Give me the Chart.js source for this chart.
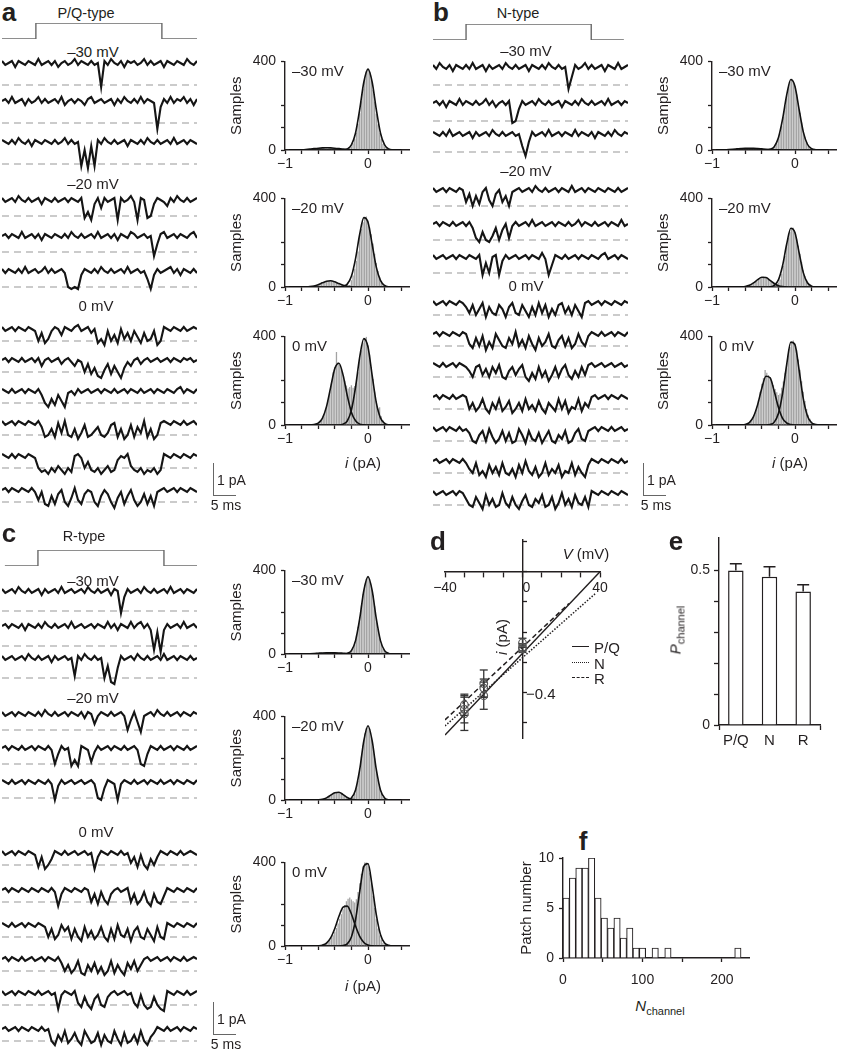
<!DOCTYPE html>
<html>
<head>
<meta charset="utf-8">
<script src="https://cdn.jsdelivr.net/npm/chart.js@4.4.1/dist/chart.umd.min.js"></script>
<style>
  body { margin: 0; background: #fff; }
  #fig { position: relative; width: 845px; height: 1050px; overflow: hidden; background: #fff;
         font-family: "Liberation Sans", Arial, Helvetica, sans-serif; color: #231f20; }
  #fig canvas { position: absolute; }
  .t { position: absolute; line-height: 1; white-space: nowrap; }
  .bar { position: absolute; border-left: 1.3px solid #666; border-bottom: 1.3px solid #666; }
  .key { position: absolute; width: 17px; height: 0; }
</style>
</head>
<body>
<div id="fig"></div>
<script>
// ---------- single-channel traces (samples in 0.05 pA steps, 0.8 ms apart) ----------
const SAMPLE_MS = 0.8;
const TRACE_MS = 47.2;

const pqTr30 = [
  [1,-1,0,1,-2,1,0,-1,1,0, -1,2,-1,0,1,-1,1,-2,0,1, -1,0,2,-1,1,0,-1,1,-1,0, -12,1,-1,2,0,-1,1,-2,1,0, 1,-1,0,2,-1,1,-1,0,1,-2, 1,0,-1,1,0,-1,2,0,-1,1],
  [0,1,-1,2,-1,0,1,-2,1,-1, 0,2,-1,1,-1,0,1,-1,2,-2, 0,1,-1,1,0,-2,1,2,-1,0, 1,-1,0,1,-2,1,-1,2,0,-1, 1,-1,2,-1,1,0,-1,-14,-3,1, -1,2,-1,1,0,2,-1,1,-2,1],
  [1,0,-1,1,-1,2,0,-1,1,-2, 1,0,-1,1,0,-1,1,-1,0,2, -1,1,-1,0,-12,-4,-13,-2,-12,1, -1,2,0,-1,1,-1,0,1,-2,1, 0,-1,1,-1,2,0,-1,1,-1,0, 1,-1,2,-1,0,1,-1,1,0,-1]
];
const pqTr20 = [
  [1,-1,0,1,-1,2,0,-1,1,-1, 0,1,-2,1,0,-1,1,-1,0,1, -1,1,0,-1,1,-9,-6,-10,-2,1, -4,1,-1,0,1,-10,1,-1,0,2, -1,-10,1,0,-9,-8,-2,1,0,-1, -3,1,-1,2,0,-1,1,-1,0,1],
  [0,1,-1,1,0,-1,2,-1,0,1, -1,1,-2,1,0,-1,1,0,-1,1, -1,2,0,-1,1,-1,0,1,-1,2, -1,0,1,-1,1,-2,1,0,-1,2, 1,-1,0,1,-1,0,-10,-4,1,2, -1,0,1,-1,1,0,-1,1,2,-1],
  [1,-1,1,0,-1,1,-1,2,-1,0, 1,-1,0,2,-1,1,-1,0,1,-1, -8,-9,-8,-9,-2,1,0,-1,1,-1, 2,0,-1,1,-1,0,1,-1,2,-1, 0,1,-1,0,-4,-9,-2,1,-1,0, 1,2,-1,1,-2,1,0,-1,1,-1]
];
const pqTr0 = [
  [1,-1,0,1,-1,1,0,-1,1,0, -1,-6,-2,-7,-5,-1,1,0,-3,1, 0,-1,1,2,-1,0,1,-2,0,-7, -5,-8,-1,-6,-3,-7,0,-5,-2,-6, -1,-4,-7,-2,-6,-5,-1,-8,-6,1, 0,-1,1,0,-1,1,-1,0,1,0],
  [0,1,-1,1,0,-1,1,-1,0,1, -1,1,-3,0,1,-1,0,1,-2,0, 1,-1,-3,0,-1,-6,-2,-7,-4,-8, -9,-5,-2,-7,-3,-6,-9,-4,-1,-3, 0,1,-2,0,1,-1,0,1,-1,0, 1,-1,1,0,-1,1,0,1,-1,0],
  [1,0,-1,1,-1,0,1,-1,1,0, -1,1,-2,-6,-8,-4,-7,-2,-5,-8, -1,0,-2,1,-1,0,1,-1,0,1, -1,1,0,-1,1,-1,0,1,-1,1, 0,-1,1,-1,0,1,-1,1,0,-1, 1,0,-1,1,2,-1,1,0,-1,1],
  [1,-1,0,1,-1,1,0,-1,1,0, -1,1,-2,-7,-6,-3,-7,0,-5,1, -6,-7,-3,-8,-5,-1,-7,-6,-4,-2, -6,-7,-5,-1,0,-7,-3,-8,-6,-1, -7,-2,-5,1,-7,-3,-8,-6,0,1, 0,-1,1,0,-1,1,-1,0,1,-1],
  [1,0,-1,1,-1,1,0,-1,1,0, -1,-6,-8,-7,-9,-6,-8,-5,-7,-9, -6,-8,0,1,-1,-6,-3,-7,-8,-6, -9,-7,-5,-8,-7,-2,0,-1,1,-5, -7,-8,-6,-9,-7,-8,-6,-9,-7,1, 0,-1,1,0,-1,1,0,-1,1,0],
  [0,1,-1,1,0,-1,1,0,-1,1, -1,-5,-1,-7,-8,-3,-7,-2,0,-6, -8,-4,1,-5,-7,-2,0,-1,-6,-8, -3,0,-2,-6,-9,-4,-1,-7,-3,0, -5,-8,-6,-2,-7,-3,-8,-1,0,1, -1,0,1,-1,1,0,-1,1,0,-1]
];
const nTr30 = [
  [1,-1,2,0,-1,1,-2,1,0,-1, 1,-1,2,-1,0,1,-2,1,-1,0, 1,-1,2,0,-1,1,-1,0,1,-2, 1,0,-1,1,-1,2,0,-1,1,-1, 0,-11,-5,1,-1,0,2,-1,1,-1, 0,1,-2,1,0,-1,2,-1,0,1],
  [0,1,-1,1,-2,1,0,-1,2,-1, 1,0,-1,1,-1,0,2,-1,1,-2, 0,1,-1,1,-10,-9,-3,1,-1,0, 1,-1,2,0,-1,1,-1,0,1,-2, 1,0,-1,1,-1,2,0,-1,1,-1, 0,1,-1,2,-1,0,1,-1,1,0],
  [1,0,-1,1,-1,2,-1,0,1,-1, 0,1,-2,1,-1,0,1,-1,2,0, -1,1,-1,0,1,-1,0,-6,-11,-4, 1,-1,0,1,-1,2,-1,0,1,-1, 1,0,-1,2,-1,1,0,-1,1,-2, 1,0,-1,1,-1,2,0,-1,1,0]
];
const nTr20 = [
  [1,-1,0,1,-1,1,0,-1,1,0, -6,-2,-8,-3,-7,-1,1,-5,-8,-2, 0,-6,-3,-8,-1,0,1,-1,0,1, -1,2,0,-1,1,-1,0,1,-1,1, 0,-1,2,-1,0,1,-1,1,0,-1, 1,0,-1,1,0,-1,1,-1,0,1],
  [0,1,-1,1,0,-1,1,-1,0,1, -1,1,-2,-7,-9,-4,-8,-9,-6,-2, -8,-3,0,-7,-1,1,-1,0,1,-1, 2,-1,0,1,-1,0,1,-1,1,0, -1,1,-1,0,2,-1,1,0,-1,1, -1,0,1,-1,1,0,-1,2,-1,0],
  [1,-1,0,1,-1,0,1,-1,1,0, -1,1,0,-1,1,-9,-3,-8,0,1, -9,-2,1,-1,0,1,-1,0,1,-1, 1,0,-1,2,-1,-9,-4,1,0,-1, 1,-1,0,1,-1,1,0,-1,1,0, -1,1,2,-1,0,1,-1,1,0,-1]
];
const nTr0 = [
  [1,-1,0,1,-1,1,0,-1,1,0, -2,-5,-1,-6,-3,0,-7,-2,-5,-6, -1,-3,-7,-2,0,-5,-6,-1,-4,-7, -2,-6,0,-5,-1,-7,-3,-6,-1,0, -5,-2,-6,-1,-4,-7,0,1,-1,0, 1,-1,1,0,-1,1,0,-1,1,0],
  [0,1,-1,1,0,-1,1,0,-1,1, 0,-5,-7,-2,-6,-1,-8,-4,-7,0, -3,-6,-7,-2,-5,1,-6,-3,-7,-1, -5,-8,-2,-6,-4,0,-6,-7,-3,-1, -6,-2,-7,-5,0,-4,-6,-1,1,0, -1,1,-1,0,1,-1,1,0,-1,1],
  [1,0,-1,1,-1,0,1,-1,1,0, -1,-3,-6,-1,0,-5,-2,-6,-1,-4, 0,-6,-7,-3,-1,-5,-2,0,-6,-8, -4,-7,-1,-6,-3,-8,-5,-1,-6,-2, 0,-5,-7,-3,-6,-1,-5,0,1,-1, 0,1,-1,0,1,-1,0,1,-1,0],
  [0,1,-1,1,0,-1,1,-1,0,1, 0,-6,-3,-7,-5,-1,-6,-8,-3,-6, -1,-7,-5,-2,-8,-6,-3,-7,-1,-6, -4,-7,-2,-6,-8,-3,-5,-7,-1,-6, -2,-8,-5,-6,-1,-7,-3,-5,0,1, -1,0,1,-1,1,0,-1,1,0,-1],
  [1,-1,0,1,-1,1,0,-1,1,-1, 0,-2,-6,-7,-3,-1,-6,0,-4,-7, -5,-1,-6,-2,-7,-6,0,-3,-7,-1, -5,-6,-2,-7,-4,-1,-6,-7,-3,-5, -1,-7,-6,-2,0,-5,-6,-1,0,1, -1,1,0,-1,1,-1,0,1,-1,0],
  [0,1,-1,0,1,-1,1,0,-1,1, -1,-4,-6,-1,-7,-5,-8,-2,-6,-3, -7,-1,-6,-7,-4,-8,-2,-6,0,-5, -7,-3,-8,-6,-1,-7,-4,-6,-2,-8, -5,-6,-1,-7,-3,-6,-8,-2,1,0, -1,1,0,-1,1,0,-1,1,-1,0],
  [1,-1,0,1,-1,0,1,-1,1,0, -3,-6,-7,-2,-5,-8,-1,-6,-3,-7, -6,0,-5,-7,-2,-6,-8,-4,-1,-6, -7,-3,-5,-1,-7,-6,-2,-8,-5,0, -6,-3,-7,-1,-5,-6,-2,-7,1,0, -1,1,0,-1,1,0,-1,1,0,-1]
];
const rTr30 = [
  [1,-1,0,1,-1,2,0,-1,1,-1, 0,1,-2,1,-1,0,1,-1,2,-1, 0,1,-1,0,1,-1,2,0,-1,1, -1,0,1,-2,1,0,-11,-3,1,-1, 0,1,-1,2,0,-1,1,-1,0,1, -1,2,-1,0,1,-1,1,0,-1,1],
  [0,1,-1,1,0,-1,1,-2,1,0, -1,1,-1,2,0,-1,1,-1,0,1, -1,2,-1,0,1,-1,0,1,-1,1, 0,-1,2,-1,1,-2,1,0,-1,2, -1,1,2,-1,1,-2,-12,-3,-13,-2, 1,-1,0,1,-1,2,-1,0,1,-1],
  [1,-1,0,1,-1,0,1,-1,2,0, -1,1,-1,0,1,-2,1,-1,0,1, -1,0,-9,1,-1,2,0,-1,1,-1, 0,-10,-4,-12,-13,-5,1,-1,0,1, -1,2,0,-1,1,-1,0,1,-1,2, -1,0,1,-1,1,0,-1,1,-1,0]
];
const rTr20 = [
  [1,-1,0,1,-1,1,0,-1,1,0, -1,1,-1,2,0,-1,1,-1,0,1, -1,1,0,-1,1,-2,1,0,-5,-1, 1,0,-1,1,-1,0,1,-1,-8,-3, 1,-4,-9,-1,0,1,-1,2,0,-1, 1,-1,0,1,-1,1,0,-1,1,0],
  [0,1,-1,1,0,-1,1,-1,0,1, -1,1,0,-1,1,-1,-8,-3,1,-1, 0,-9,-6,-9,1,0,-1,-7,-2,1, -1,0,1,-1,1,0,-1,1,-1,0, 1,-1,-8,-9,-3,1,0,-1,1,-1, 0,1,-1,1,0,-1,1,-1,0,1],
  [1,0,-1,1,-1,0,1,-1,1,0, -1,1,0,-1,1,-1,-9,-2,1,-1, 0,1,-1,0,1,-1,0,1,-1,-8, -9,-3,1,0,-1,-9,-1,1,0,-1, 1,-1,0,1,-1,1,0,-1,1,-1, 0,1,-1,1,0,-1,1,0,-1,1]
];
const rTr0 = [
  [1,-1,0,1,-1,1,0,-1,1,0, -1,-7,-2,-8,-6,-3,1,0,-1,1, -1,0,1,-1,0,1,-1,0,-8,-2, 1,0,-1,1,0,-1,1,-1,0,-5, -2,-7,-1,-6,-8,-3,-6,-2,1,0, -1,1,0,-1,1,-1,0,1,0,-1],
  [0,1,-1,1,0,-1,1,0,-1,1, 0,-1,1,0,-1,1,-1,-8,-2,1, 0,-1,1,0,-1,1,0,-6,-2,-7, -1,-5,-7,-2,0,1,-1,0,1,-6, -2,-7,-5,-1,-6,-8,-2,-6,-7,-3, 1,0,-1,1,0,-1,1,0,-1,1],
  [1,0,-1,1,-1,0,1,-1,1,0, -1,1,0,-1,-6,-2,-7,-5,0,-3, -1,-7,-2,-6,-8,-1,-6,-3,-7,-5, -1,-6,-8,-2,-7,0,-5,-6,-2,-8, -3,-1,-6,-7,-2,-5,-8,-1,-6,-7, 1,0,-1,1,0,-1,1,0,-1,1],
  [0,1,-1,1,0,-1,1,-1,0,1, -1,0,1,-1,1,0,-1,1,-2,-6, -3,-7,-5,-1,-7,-8,-3,-6,-2,-7, -4,-8,-6,-1,-7,-3,-6,-8,-2,-5, -1,-6,-3,0,1,-1,0,1,-1,0, 1,-1,1,0,-1,1,-1,0,1,0],
  [1,-1,0,1,-1,1,0,-1,1,0, -1,1,-1,0,1,-1,0,-8,-1,1, 0,-1,1,-5,-7,-2,-6,-8,-3,-1, -6,-7,-2,0,1,-1,0,1,-1,0, -5,-7,-1,-6,-8,-7,-2,-6,-8,-9, 1,0,-1,1,0,-1,1,-1,0,1],
  [0,1,-1,0,1,-1,1,0,-1,1, 0,-1,1,-1,0,-6,-8,-3,-6,-1, -7,-5,-2,-6,-8,-1,-4,-7,-6,-2, -8,-3,-6,-7,-1,-5,-8,-2,-7,-6, -3,-7,-1,-6,-8,-4,-2,1,0,-1, 1,-1,0,1,-1,1,0,-1,1,0]
];

// voltage protocol (ms, relative level)
const protoLevel = [0, 0, 1, 1, 0, 0];
const protoA = [0, 8.2, 8.2, 38.7, 38.7, 47.2];
const protoB = [0, 8.0, 8.0, 38.3, 38.3, 46.2];
const protoC = [0.7, 8.7, 8.7, 39.2, 39.2, 47.2];

// ---------- amplitude histograms ----------
const binI = [-0.70,-0.68,-0.66,-0.64,-0.62,-0.60,-0.58,-0.56,-0.54,-0.52,-0.50,-0.48,-0.46,-0.44,-0.42,-0.40,-0.38,-0.36,-0.34,-0.32,
  -0.30,-0.28,-0.26,-0.24,-0.22,-0.20,-0.18,-0.16,-0.14,-0.12,-0.10,-0.08,-0.06,-0.04,-0.02,0,0.02,0.04,0.06,0.08,
  0.10,0.12,0.14,0.16,0.18,0.20,0.22,0.24,0.26,0.28,0.30];
const fitI = [-0.95,-0.9,-0.85,-0.8,-0.75,-0.7,-0.65,-0.6,-0.55,-0.5,-0.45,-0.4,-0.35,-0.3,-0.25,-0.2,-0.15,-0.1,-0.05,0,0.05,0.1,0.15,0.2,0.25,0.3,0.35,0.4];

const pq30Counts = [5,6,7,8,8,9,10,9,9,8, 8,7,7,6,5,4,3,3,2,2, 2,3,4,6,9, 16,30,48,78,118, 166,220,276,322,356, 368, 352,318,272,218,164, 116,76,48,28,16, 9,5,3,1,0];
const pq30Closed = [0,0,0,0,0,0,0,0,0,0,0,0,0,1,5,23,77,183,307,365,307,183,77,23,5,1,0,0];
const pq30Open = [0.1,0.3,0.7,1.4,2.5,4.1,6.1,8,9.5,10,9.5,8,6.1,4.1,2.5,1.4,0.7,0.3,0.1,0,0,0,0,0,0,0,0,0];
const pq20Counts = [1,2,3,4,6, 10,13,16,20,24, 26,28,29,27,25, 22,18,14,10,8, 6,5,5,6,9, 30,52,82,118,160, 236,262,292,312,318, 300,270,238,196,150, 108,72,44,26,14, 7,3,1,0,0,0];
const pq20Closed = [0,0,0,0,0,0,0,0,0,0,0,0,0,3,13,48,128,238,313,292,193,90,30,7,1,0,0,0];
const pq20Open = [0,0,0,0.1,0.4,1.6,4.6,10.5,18.7,25.8,27.9,23.4,15.3,7.8,3.1,1,0.2,0,0,0,0,0,0,0,0,0,0,0];
const pq0Counts = [0,0,1,2,4, 8,14,24,38,58, 84,112,150,186,238, 262,330,282,272,252, 226,200,178,165,172, 180,168,176,190,238, 300,338,372,392,398, 360,318,262,208,150, 108,75,80,40,22, 12,6,3,1,0,0];
const pq0Closed = [0,0,0,0,0,0,0,0,0,0,0,0,0,4,18,67,171,306,390,352,224,101,32,7,1,0,0,0];
const pq0Open = [0,0,0,0,0,0,2,8,30,83,170,255,279,225,133,58,19,4,1,0,0,0,0,0,0,0,0,0];

const n30Counts = [4,5,6,7,8, 8,8,8,7,7, 7,6,6,5,4, 4,3,3,3,3, 4,6,10,16,28, 50,76,110,150,198, 246,282,308,322,312, 288,252,210,168,124, 86,56,34,20,11, 6,3,1,0,0,0];
const n30Closed = [0,0,0,0,0,0,0,0,0,0,0,0,0,3,15,55,139,249,318,287,182,82,26,6,1,0,0,0];
const n30Open = [0.3,0.5,1.1,2.1,3.4,4.9,6.4,7.6,8,7.6,6.4,4.9,3.4,2.1,1.1,0.5,0.2,0.1,0,0,0,0,0,0,0,0,0,0];
const n20Counts = [0,1,1,2,2, 3,4,6,9,13, 18,24,30,36,40, 44,46,44,40,35, 30,24,20,16,14, 20,34,60,96,140, 192,222,250,266,268, 246,218,186,150,112, 74,48,28,16,8, 4,2,1,0,0,0];
const n20Closed = [0,0,0,0,0,0,0,0,0,0,0,0,0,1,7,32,96,194,265,245,154,65,19,4,0.5,0,0,0];
const n20Open = [0,0,0,0,0,0,0.5,2.3,7.6,18.5,33,44,43,30,16,6,1.7,0.3,0,0,0,0,0,0,0,0,0,0];
const n0Counts = [0,0,1,1,2, 3,5,8,13,22, 36,56,82,112,150, 186,212,248,236,226, 214,196,180,162,148, 136,142,168,196,236, 278,318,352,372,382, 368,338,296,250,198, 150,108,72,46,28, 16,8,4,2,1,0];
const n0Closed = [0,0,0,0,0,0,0,0,0,0,0,0,0,2,13,52,142,274,374,362,247,119,41,10,2,0,0,0];
const n0Open = [0,0,0,0,0,0,0.4,2.5,11,38,92,166,220,213,152,80,30,9,2,0,0,0,0,0,0,0,0,0];

const r30Counts = [3,4,5,5,6, 6,7,7,6,6, 6,6,5,5,4, 4,3,3,3,2, 2,3,4,6,10, 18,32,56,88,130, 178,232,286,330,360, 372,358,326,282,228, 170,118,78,48,26, 14,7,3,1,0,0];
const r30Closed = [0,0,0,0,0,0,0,0,0,0,0,0,0,0,3,16,64,169,304,370,304,169,64,16,3,0,0,0];
const r30Open = [0,0,0.2,0.4,0.8,1.5,2.4,3.6,4.8,5.7,6,5.7,4.8,3.6,2.4,1.5,0.8,0.4,0.2,0,0,0,0,0,0,0,0,0];
const r20Counts = [0,0,0,1,1, 1,2,2,3,5, 9,13,19,25,30, 35,37,38,34,30, 25,20,14,10,7, 8,14,30,56,92, 146,208,262,318,344, 356,340,300,256,200, 146,96,58,32,16, 7,3,1,0,0,0];
const r20Closed = [0,0,0,0,0,0,0,0,0,0,0,0,0,0,1,10,48,146,284,355,284,146,48,10,1,0,0,0];
const r20Open = [0,0,0,0,0,0,0,0.6,3,10,23,35,37,26,12,4,1,0,0,0,0,0,0,0,0,0,0,0];
const r0Counts = [0,0,0,1,1, 2,3,4,6,9, 14,20,28,38,52, 68,86,108,130,152, 176,196,214,226,232, 222,214,208,224,258, 300,346,382,404,410, 390,350,300,240,182, 128,84,52,30,16, 8,4,2,1,0,0];
const r0Closed = [0,0,0,0,0,0,0,0,0,0,0,0,0,2,10,43,126,260,381,394,288,150,55,14,3,0,0,0];
const r0Open = [0,0,0,0,0,0,0,1,4,14,39,84,142,186,191,153,95,46,17,5,1,0,0,0,0,0,0,0];

const histXTicks = [-1, -0.8, -0.6, -0.4, -0.2, 0, 0.2, 0.4];
const histXText = ['\u22121', '', '', '', '', '0', '', ''];
const histYTicks = [0, 100, 200, 400];
const histYText = ['0', '', '', '400'];
const mvText = ['\u201330 mV', '\u201320 mV', '0 mV'];

// ---------- d: single-channel I-V ----------
const ivV = [-30, -20, 0];
const ivPQ = [-0.47, -0.41, -0.255], ivPQErr = [0.055, 0.045, 0.012];
const ivN = [-0.44, -0.385, -0.25], ivNErr = [0.035, 0.03, 0.012];
const ivR = [-0.455, -0.37, -0.235], ivRErr = [0.045, 0.045, 0.015];
const fitVPQ = [-40, 40], fitIPQ = [-0.54, 0];
const fitVN = [-40, 38], fitIN = [-0.51, -0.07];
const fitVR = [-40, 24], fitIR = [-0.49, -0.105];
const dXTicks = [-40, -30, -20, -10, 0, 10, 20, 30, 40];
const dXText = ['\u221240', '', '', '', '  0', '', '', '', '40'];
const dYTicks = [0.1, 0, -0.1, -0.2, -0.3, -0.4, -0.5];
const dYText = ['', '', '', '', '', '\u22120.4', ''];

// ---------- e: open probability ----------
const eLabels = ['P/Q', 'N', 'R'];
const eMean = [0.5, 0.48, 0.432];
const eErr = [0.022, 0.032, 0.022];
const eTicks = [0, 0.1, 0.2, 0.3, 0.4, 0.5];
const eTickText = ['0', '', '', '', '', '0.5'];

// ---------- f: channel number per patch ----------
const fBins = [4,12,20,28,36,44,52,60,68,76,84,92,100,108,116,124,132,140,148,156,164,172,180,188,196,204,212,220];
const fCounts = [6,8,9,9,10,6,4,3,4,2,3,1,1,0,1,0,1,0,0,0,0,0,0,0,0,0,0,1];
const fXTicks = [0, 50, 100, 150, 200];
const fXText = ['0', '', '100', '', '200'];
const fYTicks = [0, 5, 10];
const fYText = ['0', '5', '10'];

// ---------- drawing ----------
const ink = '#231f20';
Chart.defaults.font.family = '"Liberation Sans", Arial, Helvetica, sans-serif';
Chart.defaults.font.size = 14;
Chart.defaults.color = ink;
Chart.defaults.animation = false;
Chart.defaults.responsive = false;
Chart.defaults.events = [];
Chart.defaults.plugins.legend.display = false;
Chart.defaults.plugins.tooltip.enabled = false;

const fig = document.getElementById('fig');

function canvasAt(left, top, w, h) {
  const c = document.createElement('canvas');
  c.width = w; c.height = h;
  c.style.left = left + 'px'; c.style.top = top + 'px';
  c.style.width = w + 'px'; c.style.height = h + 'px';
  fig.appendChild(c);
  return c;
}

function label(html, x, y, opt = {}) {
  const d = document.createElement('div');
  d.className = 't';
  d.innerHTML = html;
  let tf = opt.left ? 'translate(0,-50%)' : 'translate(-50%,-50%)';
  if (opt.rot) tf += ' rotate(-90deg)';
  d.style.left = x + 'px';
  d.style.top = y + 'px';
  d.style.fontSize = (opt.size || 15) + 'px';
  d.style.transform = tf;
  if (opt.bold) d.style.fontWeight = 'bold';
  fig.appendChild(d);
}

const axisGrid = tl => ({ drawOnChartArea: false, drawTicks: true, tickLength: tl, tickWidth: 1.3, tickColor: ink, color: ink });
const axisBorder = { display: true, color: ink, width: 1.4 };
const fixTicks = list => s => { s.ticks = list.map(v => ({ value: v })); };

function drawTrace(x0, base, vals, open) {
  const c = canvasAt(x0 - 2, base - 16, 199, 50);
  new Chart(c, {
    type: 'line',
    data: { datasets: [
      { data: vals.map((v, k) => ({ x: k * SAMPLE_MS, y: v })), borderColor: '#151515', borderWidth: 2.1, pointRadius: 0, tension: 0 },
      { data: [{ x: 0, y: open }, { x: TRACE_MS, y: open }], borderColor: '#bababa', borderWidth: 1.3, borderDash: [7, 5], pointRadius: 0 }
    ] },
    options: {
      layout: { padding: { left: 2, right: 2, top: 0, bottom: 0 } },
      scales: { x: { type: 'linear', display: false, min: 0, max: TRACE_MS }, y: { display: false, min: -17, max: 8 } }
    }
  });
}

function drawProtocol(x0, base, top, times) {
  const c = canvasAt(x0 - 2, top - 3, 199, base - top + 6);
  new Chart(c, {
    type: 'line',
    data: { datasets: [{ data: times.map((t, i) => ({ x: t, y: protoLevel[i] })), borderColor: '#6a6a6a', borderWidth: 1.4, pointRadius: 0 }] },
    options: {
      layout: { padding: { left: 2, right: 2, top: 3, bottom: 3 } },
      scales: { x: { type: 'linear', display: false, min: 0, max: TRACE_MS }, y: { display: false, min: 0, max: 1 } }
    }
  });
}

function drawHist(axisX, top, h, counts, closedFit, openFit) {
  const yW = 61, padT = 9, xH = 22, w = 192;
  const c = canvasAt(axisX - yW, top - padT, w, padT + h + xH);
  const fitLine = arr => ({ type: 'line', data: arr.map((v, j) => ({ x: fitI[j], y: v })), borderColor: '#111', borderWidth: 1.6,
    pointRadius: 0, cubicInterpolationMode: 'monotone' });
  new Chart(c, {
    type: 'bar',
    data: { datasets: [
      fitLine(closedFit), fitLine(openFit),
      { type: 'bar', data: counts.map((v, i) => ({ x: binI[i], y: v })), backgroundColor: '#a3a3a3', barPercentage: 0.78, categoryPercentage: 1 }
    ] },
    options: {
      layout: { padding: { top: padT, right: w - yW - 124.5 } },
      scales: {
        x: { type: 'linear', offset: false, min: -1, max: 0.5, afterFit: s => { s.height = xH; }, afterBuildTicks: fixTicks(histXTicks),
             ticks: { autoSkip: false, maxRotation: 0, padding: 2, callback: (v, i) => histXText[i] },
             grid: { ...axisGrid(4), offset: false }, border: axisBorder },
        y: { min: 0, max: 400, afterFit: s => { s.width = yW; }, afterBuildTicks: fixTicks(histYTicks),
             ticks: { autoSkip: false, padding: 5, callback: (v, i) => histYText[i] },
             grid: axisGrid(4), border: axisBorder,
             title: { display: true, text: 'Samples', font: { size: 15 }, padding: { top: 4, bottom: 0 } } }
      }
    }
  });
}

function scaleBar(x, y) {
  const d = document.createElement('div');
  d.className = 'bar';
  d.style.left = x + 'px'; d.style.top = y + 'px';
  d.style.width = '22px'; d.style.height = '32px';
  fig.appendChild(d);
  label('1 pA', x + 4, y + 17, { left: true, size: 14 });
  label('5 ms', x + 13, y + 42, { size: 14 });
}

const panels = [
  { name: 'a', title: 'P/Q-type', x0: 2, proto: protoA, protoY: [39, 23], axisX: 285, histTop: [57, 194, 332], histH: 93,
    groups: [[pqTr30, [63, 101, 142], -11], [pqTr20, [200, 236, 271], -8], [pqTr0, [329, 360, 391, 423, 456, 490], -6]],
    hists: [[pq30Counts, pq30Closed, pq30Open], [pq20Counts, pq20Closed, pq20Open], [pq0Counts, pq0Closed, pq0Open]],
    letter: [9, 12], titleAt: [86, 13], mvAt: [[93, 51], [93, 183], [96, 305]], bar: [213, 463], iAt: [363, 462] },
  { name: 'b', title: 'N-type', x0: 433, proto: protoB, protoY: [40, 24], axisX: 712, histTop: [57, 194, 332], histH: 93,
    groups: [[nTr30, [67, 103, 134], -9], [nTr20, [190, 224, 257], -8], [nTr0, [303, 334, 365, 397, 429, 461, 493], -6]],
    hists: [[n30Counts, n30Closed, n30Open], [n20Counts, n20Closed, n20Open], [n0Counts, n0Closed, n0Open]],
    letter: [441, 12], titleAt: [518, 13], mvAt: [[526, 50], [526, 170], [526, 285]], bar: [643, 463], iAt: [790, 462] },
  { name: 'c', title: 'R-type', x0: 2, proto: protoC, protoY: [566, 550], axisX: 285, histTop: [566, 712, 858], histH: 88,
    groups: [[rTr30, [591, 626, 658], -10], [rTr20, [714, 748, 782], -8], [rTr0, [853, 890, 925, 959, 993, 1029], -6]],
    hists: [[r30Counts, r30Closed, r30Open], [r20Counts, r20Closed, r20Open], [r0Counts, r0Closed, r0Open]],
    letter: [9, 533], titleAt: [84, 536], mvAt: [[93, 580], [93, 697], [96, 831]], bar: [213, 1002], iAt: [363, 985] }
];

panels.forEach(p => {
  label(p.name, p.letter[0], p.letter[1], { size: 26, bold: true });
  label(p.title, p.titleAt[0], p.titleAt[1], { size: 14.5 });
  drawProtocol(p.x0, p.protoY[0], p.protoY[1], p.proto);
  p.groups.forEach(([traces, bases, open], g) => {
    label(mvText[g], p.mvAt[g][0], p.mvAt[g][1]);
    traces.forEach((t, k) => drawTrace(p.x0, bases[k], t, open));
  });
  p.hists.forEach(([counts, cl, op], g) => {
    drawHist(p.axisX, p.histTop[g], p.histH, counts, cl, op);
    label(mvText[g], p.axisX + 7, p.histTop[g] + 13, { left: true });
  });
  label('<i>i</i> (pA)', p.iAt[0], p.iAt[1]);
  scaleBar(p.bar[0], p.bar[1]);
});

// ---- panel d ----
label('d', 438, 541, { size: 26, bold: true });
(function () {
  const lineDs = (vs, is, dash) => ({ type: 'line', data: vs.map((v, k) => ({ x: v, y: is[k] })), borderColor: ink, borderWidth: 1.5,
    borderDash: dash, pointRadius: 0, showLine: true });
  const errDs = [], markDs = [];
  [[ivPQ, ivPQErr], [ivN, ivNErr], [ivR, ivRErr]].forEach(([m, e]) => {
    ivV.forEach((v, k) => errDs.push({ type: 'line', data: [{ x: v, y: m[k] - e[k] }, { x: v, y: m[k] + e[k] }], borderColor: '#333',
      borderWidth: 1.3, pointStyle: 'line', pointRadius: 4, pointBorderWidth: 1.3, pointBorderColor: '#333', showLine: true }));
    markDs.push({ type: 'scatter', data: ivV.map((v, k) => ({ x: v, y: m[k] })), pointRadius: 3.8, pointBorderColor: '#555',
      pointBackgroundColor: 'rgba(255,255,255,0)', pointBorderWidth: 1.2, showLine: false });
  });
  new Chart(canvasAt(420, 525, 200, 230), {
    type: 'scatter',
    data: { datasets: [...markDs, ...errDs, lineDs(fitVPQ, fitIPQ, []), lineDs(fitVN, fitIN, [1.5, 1.6]), lineDs(fitVR, fitIR, [5, 3])] },
    options: {
      layout: { padding: { left: 25, right: 20, top: 15, bottom: 17 } },
      scales: {
        x: { type: 'linear', position: { y: 0 }, min: -40, max: 40, afterBuildTicks: fixTicks(dXTicks),
             ticks: { autoSkip: false, maxRotation: 0, padding: 3, callback: (v, i) => dXText[i] }, grid: axisGrid(5), border: axisBorder },
        y: { type: 'linear', position: { x: 0 }, min: -0.55, max: 0.105, afterBuildTicks: fixTicks(dYTicks),
             ticks: { display: false }, grid: axisGrid(-5), border: axisBorder }
      }
    }
  });
  label(dYText[5], 526, 693, { left: true });
  label('<i>V</i> (mV)', 586, 553);
  label('<i>i</i> (pA)', 501, 637, { rot: true });
  const keys = [['solid', 'P/Q', 647], ['dotted', 'N', 663], ['dashed', 'R', 678]];
  keys.forEach(([st, name, y]) => {
    const k = document.createElement('div');
    k.className = 'key';
    k.style.left = '572px'; k.style.top = (y - 1) + 'px';
    k.style.borderTop = '1.6px ' + st + ' ' + ink;
    fig.appendChild(k);
    label(name, 594, y, { left: true });
  });
})();

// ---- panel e ----
label('e', 676, 541, { size: 26, bold: true });
new Chart(canvasAt(640, 525, 190, 225), {
  type: 'bar',
  data: { labels: eLabels, datasets: [
    ...eMean.map((m, k) => ({ type: 'line', data: [{ x: eLabels[k], y: m }, { x: eLabels[k], y: m + eErr[k] }], borderColor: ink, borderWidth: 1.5,
      pointStyle: 'line', pointRadius: [0, 6], pointBorderWidth: 1.5, pointBorderColor: ink })),
    { data: eMean, backgroundColor: '#fff', borderColor: ink, borderWidth: 1.5, barPercentage: 0.46, categoryPercentage: 1 }
  ] },
  options: {
    layout: { padding: { top: 13, right: 10 } },
    scales: {
      x: { afterFit: s => { s.height = 25; }, ticks: { padding: 2, font: { size: 15 } },
           grid: { ...axisGrid(5), tickColor: c => (c.type === 'scale' || c.index === 0) ? ink : 'rgba(0,0,0,0)' }, border: axisBorder },
      y: { min: 0, max: 0.605, afterFit: s => { s.width = 79; }, afterBuildTicks: fixTicks(eTicks),
           ticks: { autoSkip: false, padding: 4, callback: (v, i) => eTickText[i] }, grid: axisGrid(5), border: axisBorder }
    }
  }
});
label('<i>P</i><sub style="font-size:11px">channel</sub>', 677, 630, { rot: true });

// ---- panel f ----
label('f', 583, 841, { size: 26, bold: true });
new Chart(canvasAt(514, 840, 250, 148), {
  type: 'bar',
  data: { datasets: [{ data: fBins.map((b, i) => ({ x: b, y: fCounts[i] })), backgroundColor: '#fff', borderColor: ink, borderWidth: 1.1,
    barPercentage: 1, categoryPercentage: 1 }] },
  options: {
    layout: { padding: { top: 18, right: 250 - 49 - 186.8 } },
    scales: {
      x: { type: 'linear', offset: false, min: 0, max: 235, afterFit: s => { s.height = 30; }, afterBuildTicks: fixTicks(fXTicks),
           ticks: { autoSkip: false, maxRotation: 0, padding: 10, callback: (v, i) => fXText[i] }, grid: { ...axisGrid(4), offset: false }, border: axisBorder },
      y: { min: 0, max: 10, afterFit: s => { s.width = 49; }, afterBuildTicks: fixTicks(fYTicks),
           ticks: { autoSkip: false, padding: 5, callback: (v, i) => fYText[i] }, grid: axisGrid(4), border: axisBorder,
           title: { display: true, text: 'Patch number', font: { size: 15 }, padding: { top: 4, bottom: 0 } } }
    }
  }
});
label('<i>N</i><sub style="font-size:11px">channel</sub>', 660, 1007);
</script>
</body>
</html>
